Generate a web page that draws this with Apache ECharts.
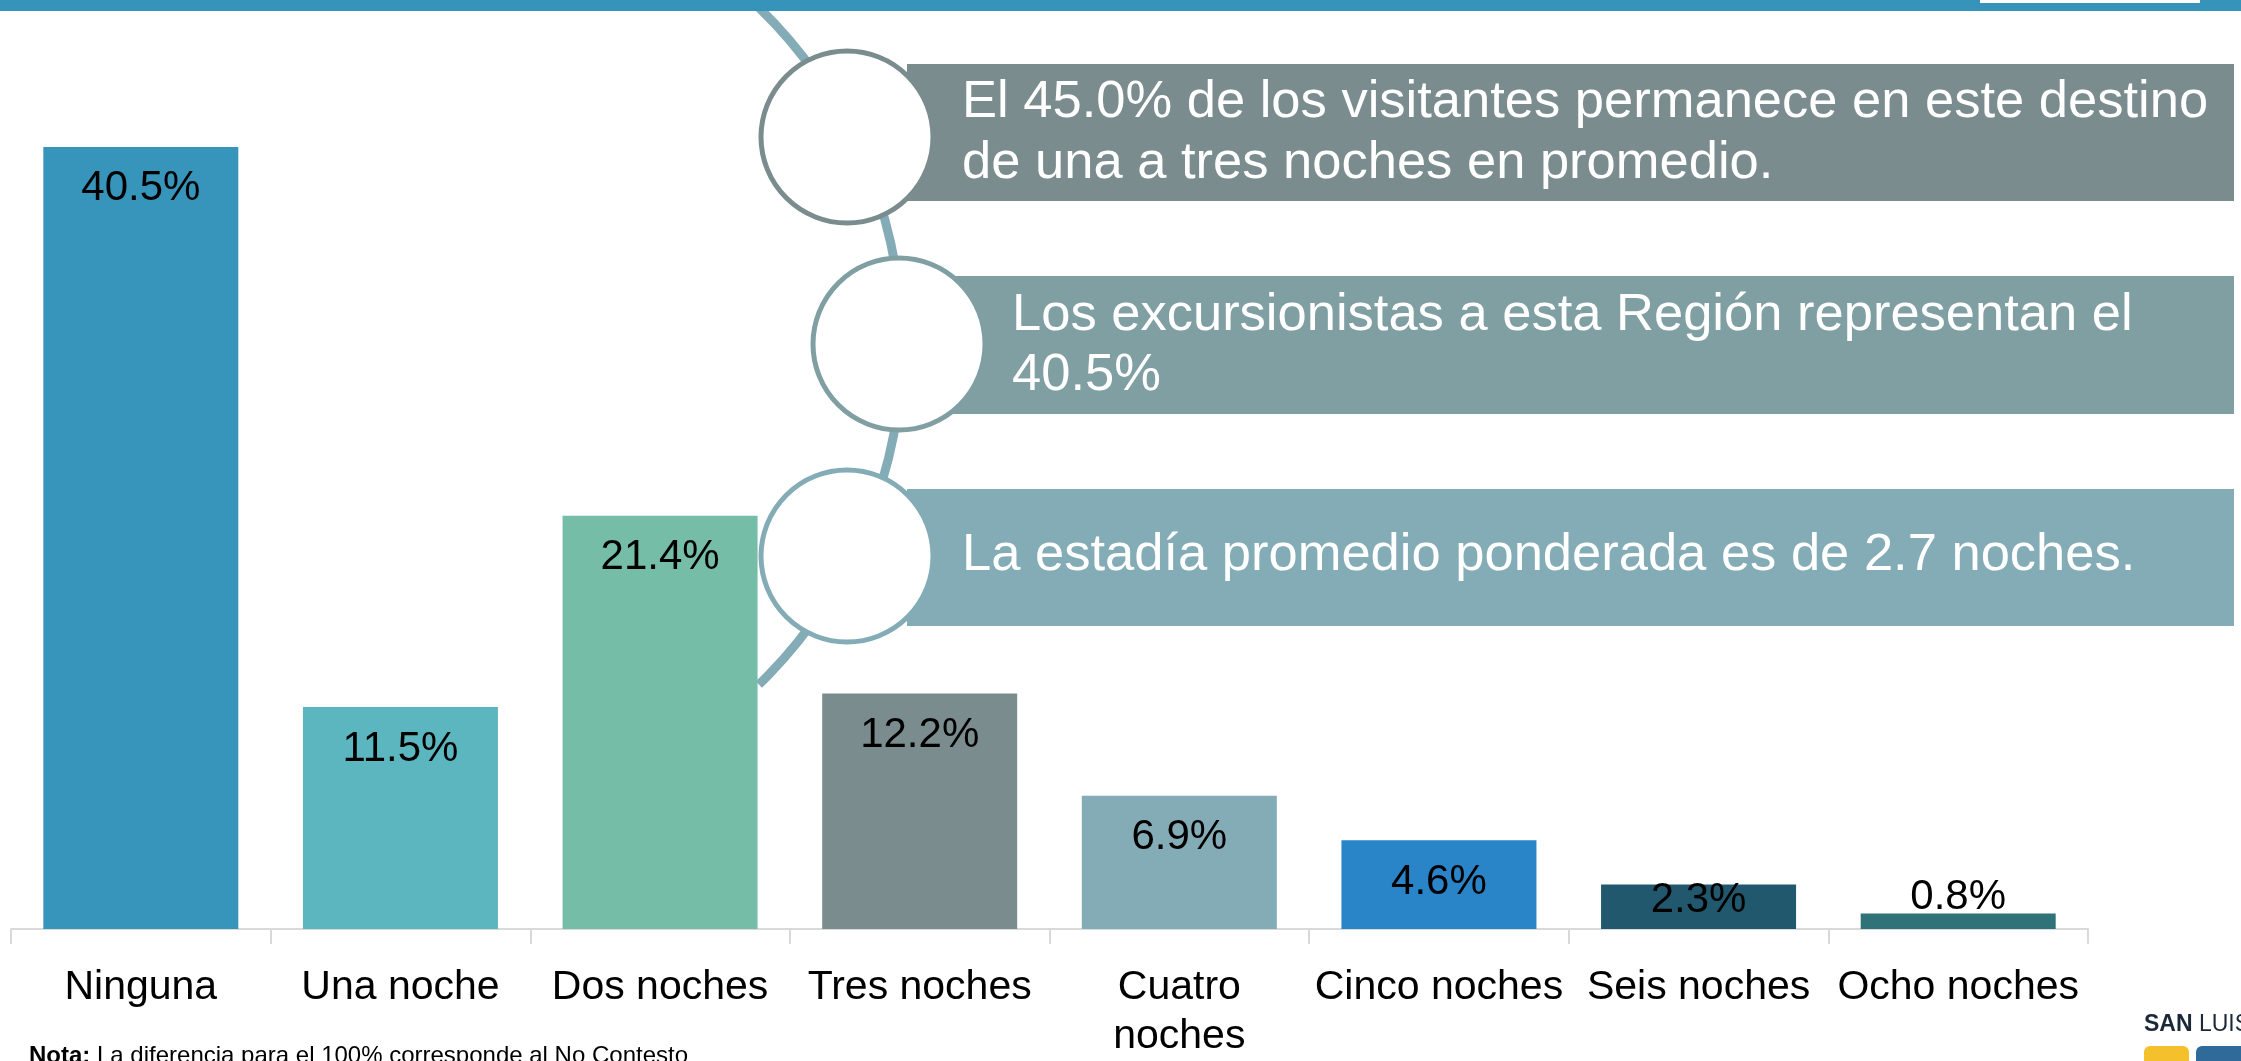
<!DOCTYPE html>
<html>
	<head>
		<meta charset="utf-8">
		<title></title>
		<script src="https://cdn.jsdelivr.net/npm/echarts@6/dist/echarts.min.js"></script>
		<style>
			html, body { margin: 0; padding: 0; background: #fff; }
		</style>
	</head>
	<body>
		<div id="main" style="width: 2241px;height:1061px;"></div>
		<script type="text/javascript">
			// datos
			var categorias = ['Ninguna', 'Una noche', 'Dos noches', 'Tres noches', 'Cuatro\nnoches', 'Cinco noches', 'Seis noches', 'Ocho noches'];
			var porcentajes = [40.5, 11.5, 21.4, 12.2, 6.9, 4.6, 2.3, 0.8];
			var colores = ['#3795BB', '#5BB6C0', '#75BDA6', '#7A8C8E', '#84ACB6', '#2A84C8', '#22586E', '#2F7278'];
			var mensajes = [
				'El 45.0% de los visitantes permanece en este destino\nde una a tres noches en promedio.',
				'Los excursionistas a esta Región representan el\n40.5%',
				'La estadía promedio ponderada es de 2.7 noches.'
			];

			var fuente = 'Liberation Sans, Arial, sans-serif';
			// ajuste de etiquetas en barras muy bajas
			var ajusteEtiqueta = { 6: -5, 7: -37 };

			var myChart = echarts.init(document.getElementById('main'));

			var option = {
				backgroundColor: '#fff',
				animation: false,
				grid: { left: 11, right: 153, top: 60, bottom: 129 },
				xAxis: {
					type: 'category',
					data: categorias,
					axisLine: { lineStyle: { color: '#D9D9D9', width: 2 } },
					axisTick: { show: true, length: 15, lineStyle: { color: '#D9D9D9', width: 2 } },
					axisLabel: {
						color: '#000', fontSize: 41, fontFamily: fuente,
						margin: 34, lineHeight: 49, interval: 0
					}
				},
				yAxis: { type: 'value', min: 0, max: 45, show: false, splitLine: { show: false } },
				series: [{
					type: 'bar',
					barWidth: 195,
					data: porcentajes.map(function (v, i) {
						var d = { value: v, itemStyle: { color: colores[i] } };
						if (ajusteEtiqueta[i] !== undefined) d.label = { distance: ajusteEtiqueta[i] };
						return d;
					}),
					label: {
						show: true,
						position: 'insideTop',
						distance: 21,
						color: '#000',
						fontSize: 42,
						fontFamily: fuente,
						formatter: function (p) { return p.value.toFixed(1) + '%'; }
					}
				}],
				graphic: [
					// franja superior
					{ type: 'rect', z: 50, shape: { x: 0, y: 0, width: 2241, height: 11 }, style: { fill: '#3694BA' } },
					{ type: 'rect', z: 51, shape: { x: 1980, y: 0, width: 220, height: 3 }, style: { fill: '#fff' } },
					// arco conector
					{ type: 'arc', z: 1, shape: { cx: 430, cy: 346, r: 472, startAngle: -0.8, endAngle: 0.8 },
					  style: { stroke: '#84ACB6', lineWidth: 9, fill: null } },
					// cajas
					{ type: 'rect', z: 10, shape: { x: 907, y: 64, width: 1327, height: 137 }, style: { fill: '#7A8C8E' } },
					{ type: 'rect', z: 10, shape: { x: 940, y: 276, width: 1294, height: 138 }, style: { fill: '#7F9FA2' } },
					{ type: 'rect', z: 10, shape: { x: 907, y: 489, width: 1327, height: 137 }, style: { fill: '#84ACB6' } },
					// circulos
					{ type: 'circle', z: 20, shape: { cx: 847, cy: 137, r: 86 }, style: { fill: '#fff', stroke: '#7A8C8E', lineWidth: 5 } },
					{ type: 'circle', z: 20, shape: { cx: 899, cy: 344, r: 86 }, style: { fill: '#fff', stroke: '#7F9FA2', lineWidth: 5 } },
					{ type: 'circle', z: 20, shape: { cx: 847, cy: 556, r: 86 }, style: { fill: '#fff', stroke: '#84ACB6', lineWidth: 5 } },
					// textos
					{ type: 'text', z: 30, x: 962, y: 72, style: { text: mensajes[0], fill: '#fff', fontSize: 52.5, fontFamily: fuente, lineHeight: 61, verticalAlign: 'top' } },
					{ type: 'text', z: 30, x: 1012, y: 286, style: { text: mensajes[1], fill: '#fff', fontSize: 52.5, fontFamily: fuente, lineHeight: 60, verticalAlign: 'top' } },
					{ type: 'text', z: 30, x: 962, y: 556, style: { text: mensajes[2], fill: '#fff', fontSize: 52.5, fontFamily: fuente, verticalAlign: 'middle' } },
					// nota
					{ type: 'text', z: 30, x: 29, y: 1044, style: {
						text: '{b|Nota:} La diferencia para el 100% corresponde al No Contesto',
						fill: '#000', fontSize: 24, fontFamily: fuente,
						rich: { b: { fontWeight: 'bold', fontSize: 24, fontFamily: fuente } }
					} },
					// logo
					{ type: 'text', z: 30, x: 2144, y: 1013, style: {
						text: '{b|SAN} LUIS', fill: '#1B2838', fontSize: 23, fontFamily: fuente,
						rich: { b: { fontWeight: 'bold', fontSize: 23, fontFamily: fuente, fill: '#1B2838' } }
					} },
					{ type: 'rect', z: 30, shape: { x: 2144, y: 1046, width: 45, height: 30, r: 6 }, style: { fill: '#F4C02C' } },
					{ type: 'rect', z: 30, shape: { x: 2196, y: 1046, width: 50, height: 30, r: 6 }, style: { fill: '#2F6A9A' } }
				]
			};

			myChart.setOption(option);
		</script>
	</body>
</html>
